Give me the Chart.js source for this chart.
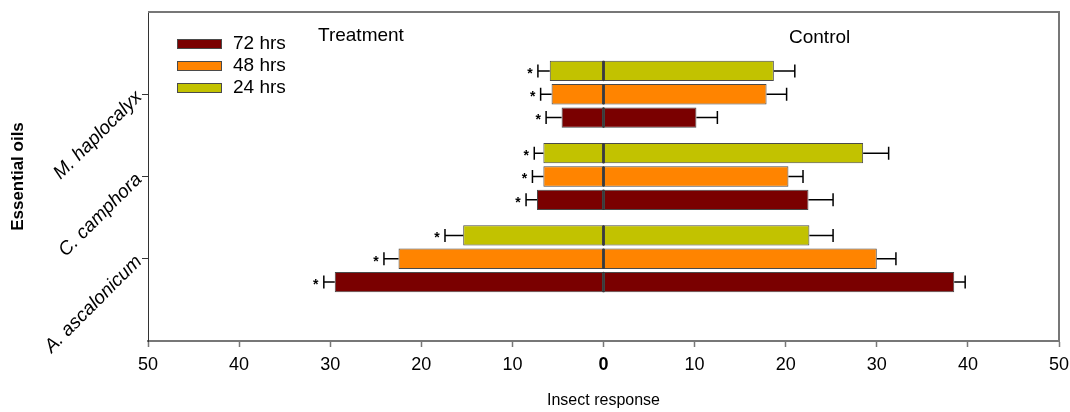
<!DOCTYPE html>
<html>
<head>
<meta charset="utf-8">
<script src="https://cdn.jsdelivr.net/npm/chart.js@4.4.1/dist/chart.umd.min.js"></script>
<style>
  html, body { margin: 0; padding: 0; background: #fff; }
  #wrap { width: 1070px; height: 412px; position: relative; }
</style>
</head>
<body>
<div id="wrap"><canvas id="chart"></canvas></div>
<script>
/* ── DATA ── */
const OILS = ['A. ascalonicum', 'C. camphora', 'M. haplocalyx'];  // bottom to top
const OIL_POS = [1, 2, 3];
const TIMES = ['24 hrs', '48 hrs', '72 hrs'];
const COLORS = ['#c2c200', '#ff8400', '#7a0000'];
const LEGEND_ORDER = ['72 hrs', '48 hrs', '24 hrs'];

// treatment side (drawn to the left), per oil A, C, M
const TREAT_24 = [15.4, 6.6, 5.9];
const TREAT_48 = [22.5, 6.6, 5.7];
const TREAT_72 = [29.5, 7.3, 4.6];
const TREAT_ERR_24 = [2.0, 1.0, 1.3];
const TREAT_ERR_48 = [1.6, 1.2, 1.2];
const TREAT_ERR_72 = [1.2, 1.2, 1.7];

// control side (drawn to the right)
const CTRL_24 = [22.6, 28.5, 18.7];
const CTRL_48 = [30.0, 20.3, 17.9];
const CTRL_72 = [38.5, 22.5, 10.2];
const CTRL_ERR_24 = [2.6, 2.8, 2.3];
const CTRL_ERR_48 = [2.1, 1.6, 2.2];
const CTRL_ERR_72 = [1.2, 2.7, 2.3];

const X_TICKS = [-50, -40, -30, -20, -10, 0, 10, 20, 30, 40, 50];

const TREAT = [TREAT_24, TREAT_48, TREAT_72];
const TREAT_ERR = [TREAT_ERR_24, TREAT_ERR_48, TREAT_ERR_72];
const CTRL = [CTRL_24, CTRL_48, CTRL_72];
const CTRL_ERR = [CTRL_ERR_24, CTRL_ERR_48, CTRL_ERR_72];

/* ── DEFAULTS ── */
const FONT = "'Liberation Sans', Arial, sans-serif";
Chart.defaults.font.family = FONT;
Chart.defaults.font.size = 16;
Chart.defaults.color = '#000';

/* ── DATASETS ── */
const datasets = [];
TIMES.forEach((t, k) => {
  const base = {
    label: t,
    stack: t,
    backgroundColor: COLORS[k],
    borderColor: '#4a4a4a',
    borderWidth: 1,
    borderSkipped: false
  };
  datasets.push({ ...base, side: 'treat', errors: TREAT_ERR[k],
    data: OIL_POS.map((y, i) => ({ x: -TREAT[k][i], y })) });
  datasets.push({ ...base, side: 'ctrl', errors: CTRL_ERR[k],
    data: OIL_POS.map((y, i) => ({ x: CTRL[k][i], y })) });
});

/* ── PLUGINS ── */
const errorBars = {
  id: 'errorBars',
  afterDatasetsDraw(chart) {
    const { ctx, scales: { x } } = chart;
    const zero = x.getPixelForValue(0);
    ctx.save();
    ctx.fillStyle = '#000';
    ctx.font = 'bold 14px ' + FONT;
    ctx.textAlign = 'center';
    ctx.textBaseline = 'middle';
    chart.data.datasets.forEach((ds, di) => {
      const meta = chart.getDatasetMeta(di);
      meta.data.forEach((bar, i) => {
        const v = ds.data[i].x;
        const end = x.getPixelForValue(v + Math.sign(v) * ds.errors[i]);
        // zero divider through the bar
        ctx.strokeStyle = '#3a3a3a';
        ctx.lineWidth = 1.5;
        ctx.beginPath();
        ctx.moveTo(zero, bar.y - bar.height / 2);
        ctx.lineTo(zero, bar.y + bar.height / 2);
        ctx.stroke();
        // error bar
        ctx.strokeStyle = '#000';
        ctx.beginPath();
        ctx.moveTo(bar.x, bar.y);
        ctx.lineTo(end, bar.y);
        ctx.moveTo(end, bar.y - 6.5);
        ctx.lineTo(end, bar.y + 6.5);
        ctx.stroke();
        if (ds.side === 'treat') ctx.fillText('*', end - 8, bar.y + 3);
      });
    });
    ctx.restore();
  }
};

const frameAndLabels = {
  id: 'frameAndLabels',
  afterDraw(chart) {
    const { ctx, chartArea: a } = chart;
    ctx.save();
    // top and right frame
    ctx.strokeStyle = '#777';
    ctx.lineWidth = 2;
    ctx.beginPath();
    ctx.moveTo(a.left, a.top);
    ctx.lineTo(a.right, a.top);
    ctx.lineTo(a.right, a.bottom);
    ctx.stroke();

    // side labels
    ctx.fillStyle = '#000';
    ctx.font = '19px ' + FONT;
    ctx.textBaseline = 'middle';
    ctx.textAlign = 'left';
    ctx.fillText('Treatment', a.left + 170, a.top + 24);
    ctx.fillText('Control', a.left + 641, a.top + 26);

    // legend
    LEGEND_ORDER.forEach((t, j) => {
      const k = TIMES.indexOf(t);
      const y = a.top + 27 + j * 22;
      ctx.fillStyle = COLORS[k];
      ctx.fillRect(a.left + 29, y, 45, 10);
      ctx.strokeStyle = '#4a4a4a';
      ctx.lineWidth = 1;
      ctx.strokeRect(a.left + 29.5, y + 0.5, 44, 9);
      ctx.fillStyle = '#000';
      ctx.fillText(t, a.left + 85, y + 5);
    });
    ctx.restore();
  }
};

/* ── CHART ── */
new Chart(document.getElementById('chart'), {
  type: 'bar',
  data: { datasets },
  options: {
    indexAxis: 'y',
    responsive: true,
    maintainAspectRatio: false,
    animation: false,
    categoryPercentage: 0.85,
    barPercentage: 0.87,
    layout: { padding: { top: 12, right: 11, left: 0, bottom: 0 } },
    plugins: { legend: { display: false }, tooltip: { enabled: false } },
    scales: {
      x: {
        type: 'linear',
        stacked: true,
        min: -50,
        max: 50,
        afterBuildTicks: s => { s.ticks = X_TICKS.map(v => ({ value: v })); },
        afterFit: s => { s.height = 71; s.paddingLeft = 0; s.paddingRight = 0; },
        border: { color: '#777', width: 2 },
        grid: { drawOnChartArea: false, drawTicks: true, tickLength: 6, color: '#777', tickWidth: 1.5 },
        ticks: {
          padding: 7,
          color: '#000',
          callback: v => Math.abs(v),
          font: ctx => ({ size: 18, weight: ctx.tick && ctx.tick.value === 0 ? 'bold' : 'normal' })
        },
        title: {
          display: true,
          text: 'Insect response',
          font: { size: 16 },
          padding: { top: 0, bottom: 2 }
        }
      },
      y: {
        type: 'linear',
        min: 0,
        max: 4,
        offset: false,
        afterBuildTicks: s => { s.ticks = OIL_POS.map(v => ({ value: v })); },
        afterFit: s => { s.width = 148; s.paddingTop = 0; s.paddingBottom = 0; },
        border: { color: '#333', width: 1 },
        grid: { offset: false, drawOnChartArea: false, drawTicks: true, tickLength: 6, color: '#333' },
        ticks: {
          autoSkip: false,
          minRotation: 45,
          maxRotation: 45,
          padding: 3,
          color: '#000',
          font: { size: 19, style: 'italic' },
          callback: v => OILS[OIL_POS.indexOf(v)]
        },
        title: {
          display: true,
          text: 'Essential oils',
          font: { size: 17, weight: 'bold' },
          padding: { top: 8, bottom: 0 }
        }
      }
    }
  },
  plugins: [errorBars, frameAndLabels]
});
</script>
</body>
</html>
